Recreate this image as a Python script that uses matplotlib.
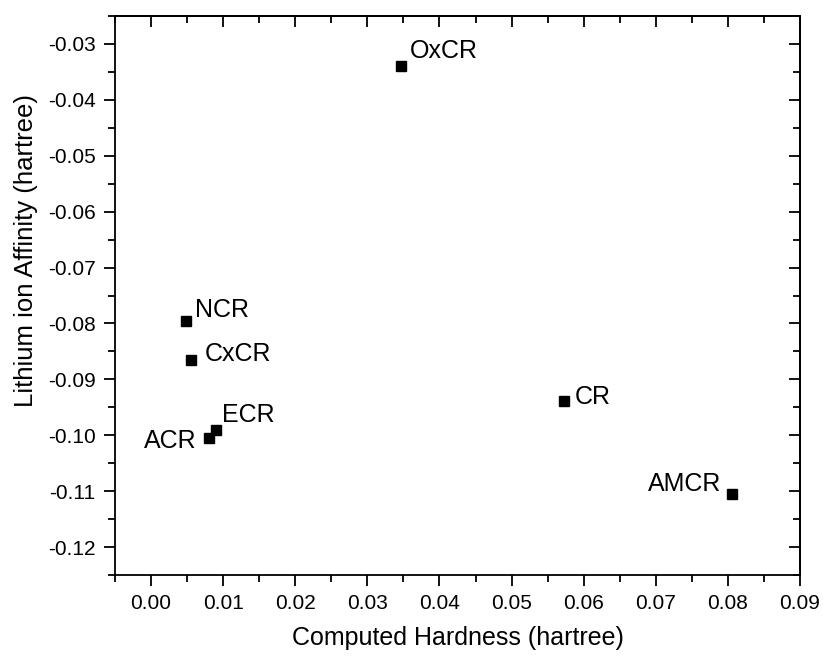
import matplotlib
matplotlib.use("Agg")
import matplotlib.pyplot as plt
from matplotlib.ticker import MultipleLocator

plt.rcParams['font.family'] = ['Liberation Sans', 'DejaVu Sans']

# compounds, hardness (x) and lithium ion affinity (y), in hartree
names = ['OxCR', 'NCR', 'CxCR', 'ECR', 'ACR', 'CR', 'AMCR']
hardness = [0.0347, 0.0048, 0.0055, 0.0090, 0.0080, 0.0573, 0.0806]
affinity = [-0.0339, -0.0796, -0.0865, -0.0990, -0.1005, -0.0939, -0.1105]

# label offsets in pixels (dx, dy, horizontal alignment)
label_pos = {
    'OxCR': (9, 15, 'left'),
    'NCR': (9, 11, 'left'),
    'CxCR': (14, 6, 'left'),
    'ECR': (6, 15, 'left'),
    'ACR': (-12, -3, 'right'),
    'CR': (11, 4, 'left'),
    'AMCR': (-11, 10, 'right'),
}

fig = plt.figure(figsize=(8.23, 6.58), dpi=100)
ax = fig.add_axes([0.1397, 0.1261, 0.9721 - 0.1397, 0.9757 - 0.1261])

ax.plot(hardness, affinity, 's', color='black', markersize=7.3, linestyle='none')

for n, x, y in zip(names, hardness, affinity):
    dx, dy, ha = label_pos[n]
    ax.annotate(n, (x, y), xytext=(dx, dy), textcoords='offset pixels',
                ha=ha, va='center', fontsize=18)

ax.set_xlim(-0.005, 0.09)
ax.set_ylim(-0.125, -0.025)
ax.xaxis.set_major_locator(MultipleLocator(0.01))
ax.xaxis.set_minor_locator(MultipleLocator(0.005))
ax.yaxis.set_major_locator(MultipleLocator(0.01))
ax.yaxis.set_minor_locator(MultipleLocator(0.005))
ax.xaxis.set_major_formatter(plt.FuncFormatter(lambda v, p: f'{v:.2f}'))
ax.yaxis.set_major_formatter(plt.FuncFormatter(lambda v, p: f'{v:.2f}'))

for s in ax.spines.values():
    s.set_linewidth(1.3)

ax.tick_params(which='both', direction='out', width=1.3, labelsize=15,
               top=False, right=False)
ax.tick_params(which='major', length=8, pad=6)
ax.tick_params(which='minor', length=4.8)

# mirrored ticks on the top and right pointing inward
tx = ax.secondary_xaxis('top')
tx.xaxis.set_major_locator(MultipleLocator(0.01))
tx.xaxis.set_minor_locator(MultipleLocator(0.005))
tx.tick_params(which='both', direction='in', width=1.3, labeltop=False)
tx.tick_params(which='major', length=8)
tx.tick_params(which='minor', length=4.8)
tx.spines['top'].set_linewidth(1.3)
ty = ax.secondary_yaxis('right')
ty.yaxis.set_major_locator(MultipleLocator(0.01))
ty.yaxis.set_minor_locator(MultipleLocator(0.005))
ty.tick_params(which='both', direction='in', width=1.3, labelright=False)
ty.tick_params(which='major', length=8)
ty.tick_params(which='minor', length=4.8)
ty.spines['right'].set_linewidth(1.3)

ax.set_xlabel('Computed Hardness (hartree)', fontsize=18, labelpad=9)
ax.set_ylabel('Lithium ion Affinity (hartree)', fontsize=18.5)
# the y title sits above the middle of the axis in the original
ax.yaxis.set_label_coords(-0.113, 0.58)

fig.savefig('out.png', dpi=100)
